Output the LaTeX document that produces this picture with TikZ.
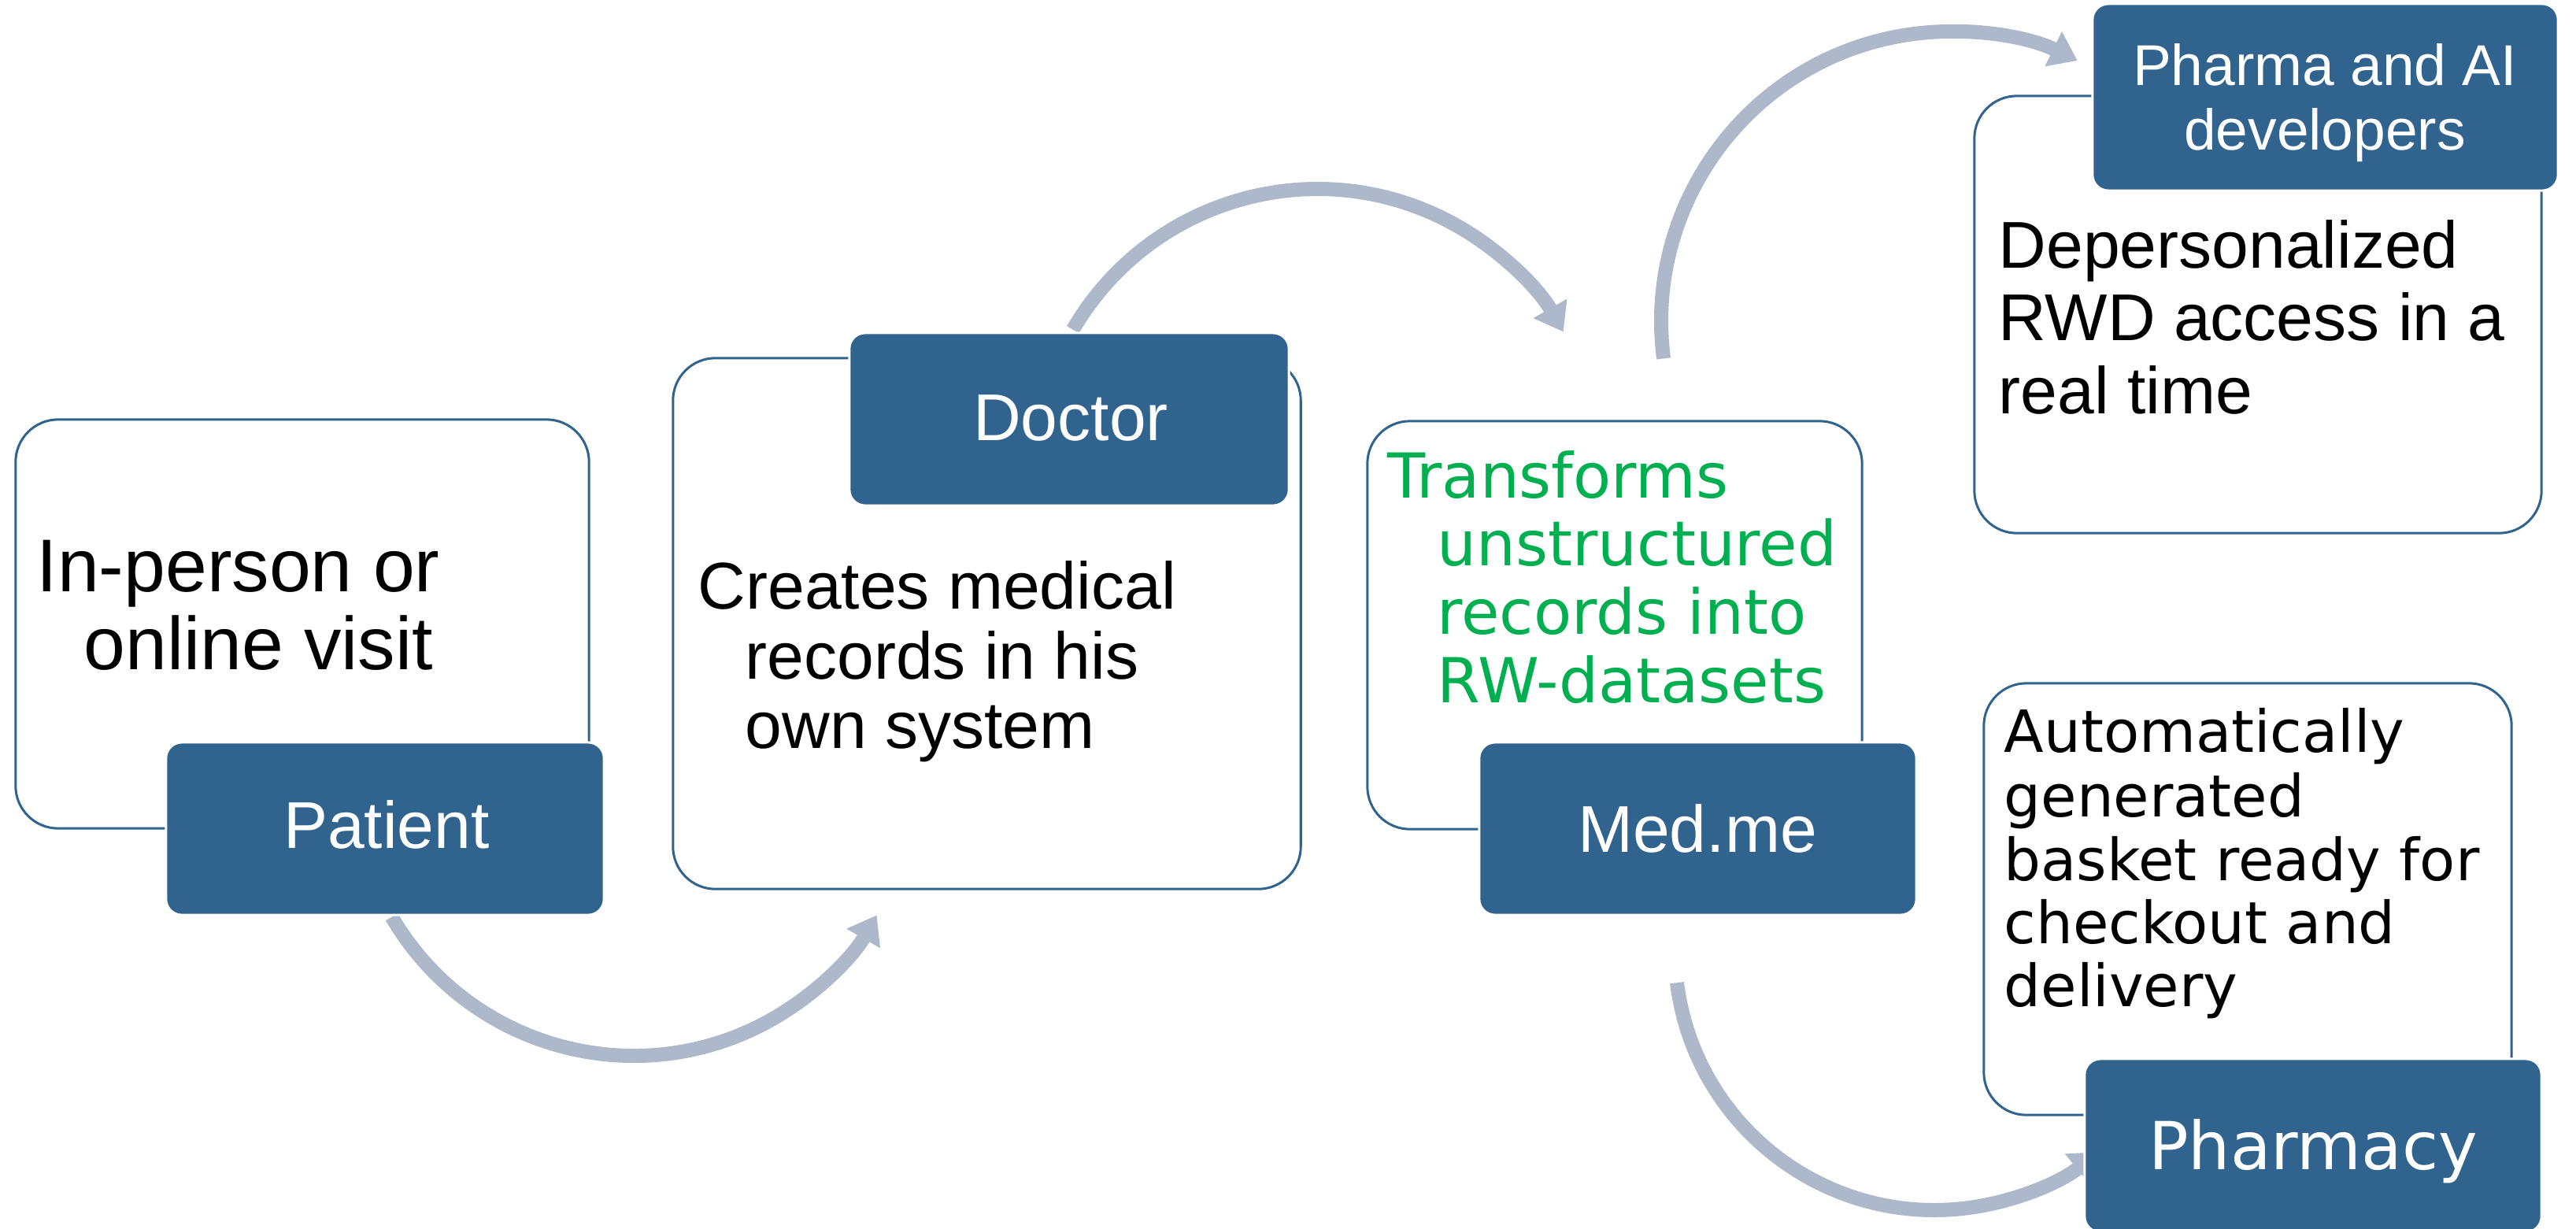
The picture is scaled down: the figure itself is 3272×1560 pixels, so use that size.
\documentclass[tikz,border=0pt]{standalone}
\usepackage{fontspec}
\setmainfont{Liberation Sans}
\newfontfamily\dvs{DejaVu Sans}
\usetikzlibrary{arrows.meta}
\definecolor{boxblue}{HTML}{31638F}
\definecolor{flowgray}{HTML}{ADB9CA}
\definecolor{txtgreen}{HTML}{00B050}
\begin{document}
\begin{tikzpicture}[x=0.01cm,y=-0.01cm,
  whitebox/.style={draw=boxblue, line width=0.03cm, fill=white, rounded corners=0.54cm, inner sep=0},
  bluebox/.style={draw=white, line width=0.03cm, fill=boxblue, rounded corners=0.2cm, inner sep=0},
  flow/.style={draw=flowgray, line width=0.18cm, -{Triangle[length=0.34cm,width=0.47cm]}},
  tl/.style={inner sep=0, anchor=base west},
  tc/.style={inner sep=0, anchor=base, text=white},
  arialL/.style={font=\fontsize{27pt}{30pt}\selectfont},
  arialM/.style={font=\fontsize{23.9pt}{26pt}\selectfont},
  arialS/.style={font=\fontsize{20.8pt}{23pt}\selectfont},
  dvsM/.style={font=\dvs\fontsize{22.4pt}{25pt}\selectfont},
  dvsS/.style={font=\dvs\fontsize{21pt}{23pt}\selectfont},
  dvsL/.style={font=\dvs\fontsize{23.9pt}{26pt}\selectfont}
]
\clip (0,0) rectangle (3272,1560);
\fill[white] (0,0) rectangle (3272,1560);

% arrows (under the boxes)
\coordinate (a1s) at (497.6,1164.6);
\coordinate (a2s) at (1362.8,418.7);
\coordinate (a3s) at (2113.1,455.4);
\coordinate (a4s) at (2130,1248.2);
\draw[flow] (a1s) arc[start angle=149.7, end angle=29.9, radius=356];
\draw[flow] (a2s) arc[start angle=210.2, end angle=330.3, radius=359.5];
\draw[flow] (a3s) arc[start angle=172.6, end angle=295.9, radius=368];
\draw[flow] (a4s) arc[start angle=172.9, end angle=50.9, radius=329.5];

% white boxes
\node[whitebox, minimum width=7.28cm, minimum height=5.19cm] (patw) at (384,792.5) {};
\node[whitebox, minimum width=7.97cm, minimum height=6.74cm] (docw) at (1253.5,792) {};
\node[whitebox, minimum width=6.28cm, minimum height=5.18cm] (medw) at (2051,794) {};
\node[whitebox, minimum width=7.20cm, minimum height=5.55cm] (phaw) at (2868,399.5) {};
\node[whitebox, minimum width=6.70cm, minimum height=5.48cm] (pcyw) at (2855,1142) {};

% blue boxes
\node[bluebox, minimum width=5.56cm, minimum height=2.19cm] (patb) at (489,1052.5) {};
\node[bluebox, minimum width=5.58cm, minimum height=2.19cm] (docb) at (1358,532.5) {};
\node[bluebox, minimum width=5.55cm, minimum height=2.19cm] (medb) at (2156.5,1052.5) {};
\node[bluebox, minimum width=5.91cm, minimum height=2.37cm] (phab) at (2953.5,123.5) {};
\node[bluebox, minimum width=5.80cm, minimum height=2.20cm] (pcyb) at (2938,1455) {};

% blue box labels
\node[tc, arialM] (patl) at (491,1077) {Patient};
\node[tc, arialM] (docl) at (1360,559) {Doctor};
\node[tc, arialM] (medl) at (2156,1082) {Med.me};
\node[tc, arialS] (phal1) at (2953,108) {Pharma and AI};
\node[tc, arialS] (phal2) at (2953,190) {developers};
\node[tc, dvsL] (pcyl) at (2938,1485) {Pharmacy};

% white box texts
\node[tl, arialL] (pt1) at (46,751) {In-person or};
\node[tl, arialL] (pt2) at (106,850) {online visit};

\node[tl, arialM] (dt1) at (886,773) {Creates medical};
\node[tl, arialM] (dt2) at (946,862) {records in his};
\node[tl, arialM] (dt3) at (946,950) {own system};

\node[tl, dvsM, text=txtgreen] (mt1) at (1762,632) {Transforms};
\node[tl, dvsM, text=txtgreen] (mt2) at (1825,718) {unstructured};
\node[tl, dvsM, text=txtgreen] (mt3) at (1825,805) {records into};
\node[tl, dvsM, text=txtgreen] (mt4) at (1825,892) {RW-datasets};

\node[tl, arialM] (ht1) at (2538,340) {Depersonalized};
\node[tl, arialM] (ht2) at (2538,432) {RWD access in a};
\node[tl, arialM] (ht3) at (2538,525) {real time};

\node[tl, dvsS] (yt1) at (2545,955) {Automatically};
\node[tl, dvsS] (yt2) at (2545,1037) {generated};
\node[tl, dvsS] (yt3) at (2545,1118) {basket ready for};
\node[tl, dvsS] (yt4) at (2545,1198) {checkout and};
\node[tl, dvsS] (yt5) at (2545,1278) {delivery};
\end{tikzpicture}
\end{document}
